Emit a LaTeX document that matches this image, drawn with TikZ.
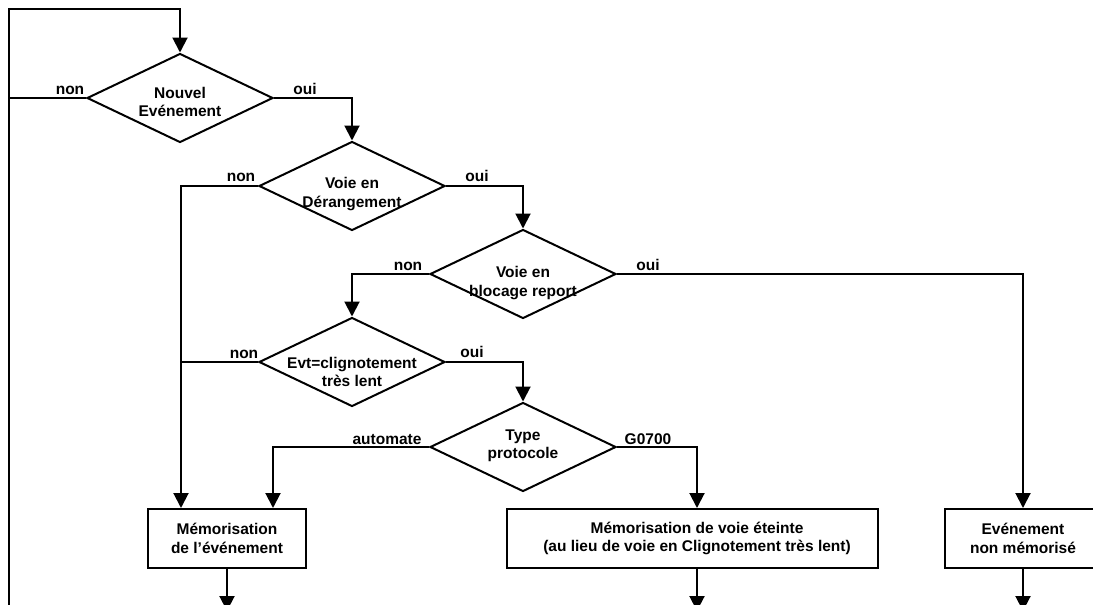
\documentclass[tikz,border=0pt]{standalone}
\usepackage{fontspec}
\setmainfont{Liberation Sans}
\usetikzlibrary{shapes.geometric,arrows.meta}
\begin{document}
\begin{tikzpicture}[x=1pt,y=-1pt,
  every node/.style={font=\bfseries\fontsize{15.5}{18.5}\selectfont},
  dia/.style={draw,shape=diamond,line width=2pt,minimum width=186pt,minimum height=89pt,inner sep=0pt},
  txt/.style={align=center,inner sep=0pt},
  lbl/.style={anchor=base,inner sep=0pt},
  boxn/.style={draw,rectangle,line width=2pt,minimum height=59pt,align=center,inner sep=0pt},
  ln/.style={line width=2pt},
  arr/.style={line width=2pt,-{Triangle[width=15pt,length=15pt]}}]
\useasboundingbox (0,0) rectangle (1093,605);
% decisions
\node[dia] (d1) at (180,98) {};
\node[txt] (t1) at (180,102) {Nouvel\\Evénement};
\node[dia] (d2) at (352,186) {};
\node[txt] (t2) at (352,194) {Voie en\\Dérangement};
\node[dia] (d3) at (523,274) {};
\node[txt] (t3) at (523,283) {Voie en\\blocage report};
\node[dia] (d4) at (352,362) {};
\node[txt] (t4) at (352,372) {Evt=clignotement\\très lent};
\node[dia] (d5) at (523,447) {};
\node[txt] (t5) at (523,446) {Type\\protocole};
% boxes
\node[boxn,minimum width=158pt] (b1) at (227,538.5) {Mémorisation\\de l’événement};
\node[boxn,minimum width=371pt] (b2) at (692.5,538.5) {\hspace*{9pt}Mémorisation de voie éteinte\\\hspace*{9pt}(au lieu de voie en Clignotement très lent)};
\node[boxn,minimum width=156pt] (b3) at (1023,538.5) {Evénement\\non mémorisé};
% helper coordinates
\coordinate (xl) at (9,9);
\coordinate (bot) at (0,611);
\coordinate (xa) at (181,0);
\coordinate (xb) at (273,0);
\coordinate (xc) at (697,0);
% labels
\node[lbl] (l1n) at (70,94) {non};
\node[lbl] (l1o) at (305,94) {oui};
\node[lbl] (l2n) at (241,181) {non};
\node[lbl] (l2o) at (477,181) {oui};
\node[lbl] (l3n) at (408,270) {non};
\node[lbl] (l3o) at (648,270) {oui};
\node[lbl] (l4n) at (244,358) {non};
\node[lbl] (l4o) at (472,357) {oui};
\node[lbl] (l5a) at (387,444) {automate};
\node[lbl] (l5g) at (648,444) {G0700};
% connectors
\draw[arr] (xl |- bot) -- (xl) -| (d1.north);
\draw[ln] (d1.west) -- (d1.west -| xl);
\draw[arr] (d1.east) -| (d2.north);
\draw[arr] (d2.west) -| (b1.north -| xa);
\draw[arr] (d2.east) -| (d3.north);
\draw[arr] (d3.west) -| (d4.north);
\draw[arr] (d3.east) -| (b3.north);
\draw[ln] (d4.west) -- (d4.west -| xa);
\draw[arr] (d4.east) -| (d5.north);
\draw[arr] (d5.west) -| (b1.north -| xb);
\draw[arr] (d5.east) -| (b2.north -| xc);
\draw[arr] (b1.south) -- (b1.south |- bot);
\draw[arr] (b2.south -| xc) -- (xc |- bot);
\draw[arr] (b3.south) -- (b3.south |- bot);
\end{tikzpicture}
\end{document}
